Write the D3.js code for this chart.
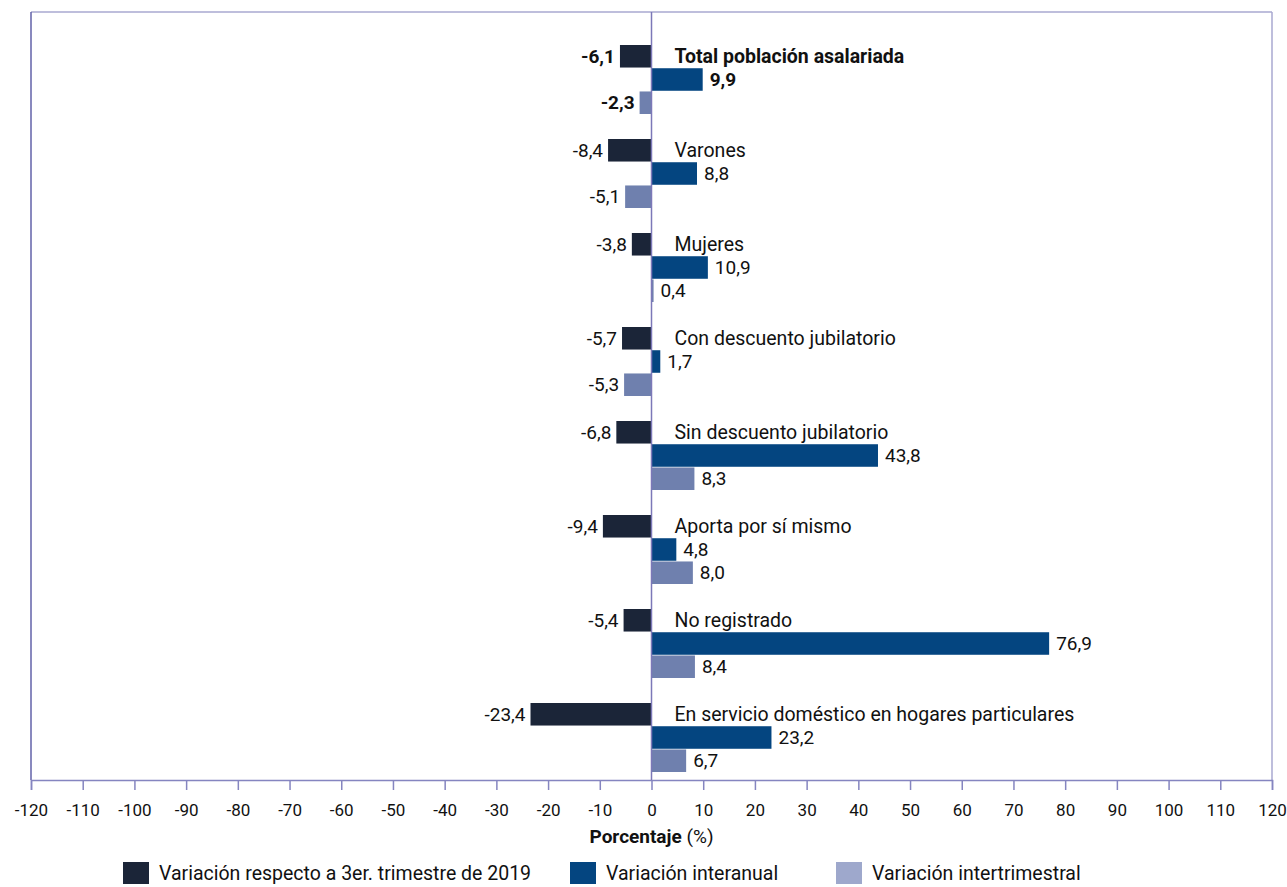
<!DOCTYPE html>
<html lang="es">
<head>
  <meta charset="UTF-8">
  <title>Población asalariada - variaciones</title>
  <style>
    body { margin: 0; background: #fff; }
    svg { font-family: Roboto, "Noto Sans", sans-serif; }
  </style>
</head>
<body>
  <svg id="chart" width="1287" height="887"></svg>

  <script src="https://cdn.jsdelivr.net/npm/d3@7/dist/d3.min.js"></script>
  <script>

    var categorias = [
      "Total población asalariada",
      "Varones",
      "Mujeres",
      "Con descuento jubilatorio",
      "Sin descuento jubilatorio",
      "Aporta por sí mismo",
      "No registrado",
      "En servicio doméstico en hogares particulares"
    ];
    var var2019 = [-6.1, -8.4, -3.8, -5.7, -6.8, -9.4, -5.4, -23.4];
    var interanual = [9.9, 8.8, 10.9, 1.7, 43.8, 4.8, 76.9, 23.2];
    var intertrimestral = [-2.3, -5.1, 0.4, -5.3, 8.3, 8.0, 8.4, 6.7];
    var series = [
      { nombre: "Variación respecto a 3er. trimestre de 2019", valores: var2019, color: "#1b2538", leyenda: "#1b2538" },
      { nombre: "Variación interanual", valores: interanual, color: "#044580", leyenda: "#044580" },
      { nombre: "Variación intertrimestral", valores: intertrimestral, color: "#6f80ae", leyenda: "#9ea8cc" }
    ];
    var ticks = d3.range(-120, 121, 10);

    var svg = d3.select("#chart"),
      m = { left: 31, right: 1272, top: 12, bottom: 780 };

    var x = d3.scaleLinear().domain([-120, 120]).range([m.left, m.right]);
    var y = d3.scaleBand().domain(categorias).range([45, 797]);
    var ySub = d3.scaleBand().domain([0, 1, 2]).range([0, 69]).paddingInner(0.03);

    var loc = d3.formatLocale({ decimal: ",", thousands: ".", grouping: [3], currency: ["$", ""], minus: "-" });
    var fmt = loc.format(".1f");

    // marco
    svg.append("line").attr("x1", m.left).attr("x2", m.right).attr("y1", m.top).attr("y2", m.top)
      .attr("stroke", "#a9a9d0").attr("stroke-width", 1.5);
    svg.append("line").attr("x1", m.right).attr("x2", m.right).attr("y1", m.top).attr("y2", m.bottom)
      .attr("stroke", "#a9a9d0").attr("stroke-width", 1.5);
    svg.append("line").attr("x1", m.left).attr("x2", m.left).attr("y1", m.top).attr("y2", m.bottom)
      .attr("stroke", "#6262a8").attr("stroke-width", 1.5);

    // eje x
    var axis = svg.append("g")
      .attr("transform", "translate(0," + m.bottom + ")")
      .call(d3.axisBottom(x).tickValues(ticks).tickSize(10).tickPadding(14)
        .tickFormat(function (d) { return d; }));
    axis.select(".domain").attr("stroke", "#8585c0").attr("stroke-width", 1.5);
    axis.selectAll(".tick line").attr("stroke", "#8585c0").attr("stroke-width", 1.5);
    axis.selectAll(".tick text").attr("fill", "#111").style("font-size", "17px")
      .style("font-family", "Roboto, sans-serif");

    // barras
    var grupos = svg.append("g").selectAll("g")
      .data(categorias)
      .join("g")
      .attr("transform", function (d) { return "translate(0," + y(d) + ")"; });

    series.forEach(function (s, si) {
      grupos.append("rect")
        .attr("x", function (d, i) { return x(Math.min(0, s.valores[i])); })
        .attr("y", ySub(si))
        .attr("width", function (d, i) { return Math.abs(x(s.valores[i]) - x(0)); })
        .attr("height", ySub.bandwidth())
        .attr("fill", s.color);

      grupos.append("text")
        .attr("x", function (d, i) {
          var v = s.valores[i];
          return v < 0 ? x(v) - 5 : x(v) + 7;
        })
        .attr("y", ySub(si) + ySub.bandwidth() / 2)
        .attr("dy", "0.35em")
        .attr("text-anchor", function (d, i) { return s.valores[i] < 0 ? "end" : "start"; })
        .attr("font-size", 19)
        .attr("font-weight", function (d, i) { return i === 0 ? "bold" : "normal"; })
        .attr("fill", "#111")
        .text(function (d, i) { return fmt(s.valores[i]); });
    });

    grupos.append("text")
      .attr("x", x(0) + 23)
      .attr("y", ySub(0) + ySub.bandwidth() / 2)
      .attr("dy", "0.35em")
      .attr("font-size", 19.5)
      .attr("font-weight", function (d, i) { return i === 0 ? "bold" : "normal"; })
      .attr("fill", "#111")
      .text(function (d) { return d; });

    // línea del cero
    svg.append("line").attr("x1", x(0)).attr("x2", x(0)).attr("y1", m.top).attr("y2", m.bottom)
      .attr("stroke", "#7c78b8").attr("stroke-width", 1.5);

    // título del eje
    var titulo = svg.append("text")
      .attr("x", x(0)).attr("y", 843)
      .attr("text-anchor", "middle")
      .attr("font-size", 19)
      .attr("fill", "#111");
    titulo.append("tspan").attr("font-weight", "bold").text("Porcentaje");
    titulo.append("tspan").text(" (%)");

    // leyenda
    var legX = [123, 570, 836];
    var leg = svg.append("g").selectAll("g")
      .data(series)
      .join("g")
      .attr("transform", function (d, i) { return "translate(" + legX[i] + ",862)"; });
    leg.append("rect").attr("width", 26).attr("height", 22)
      .attr("fill", function (d) { return d.leyenda; });
    leg.append("text").attr("x", 36).attr("y", 11).attr("dy", "0.35em")
      .attr("font-size", 19.5).attr("fill", "#111")
      .text(function (d) { return d.nombre; });

  </script>
</body>
</html>
